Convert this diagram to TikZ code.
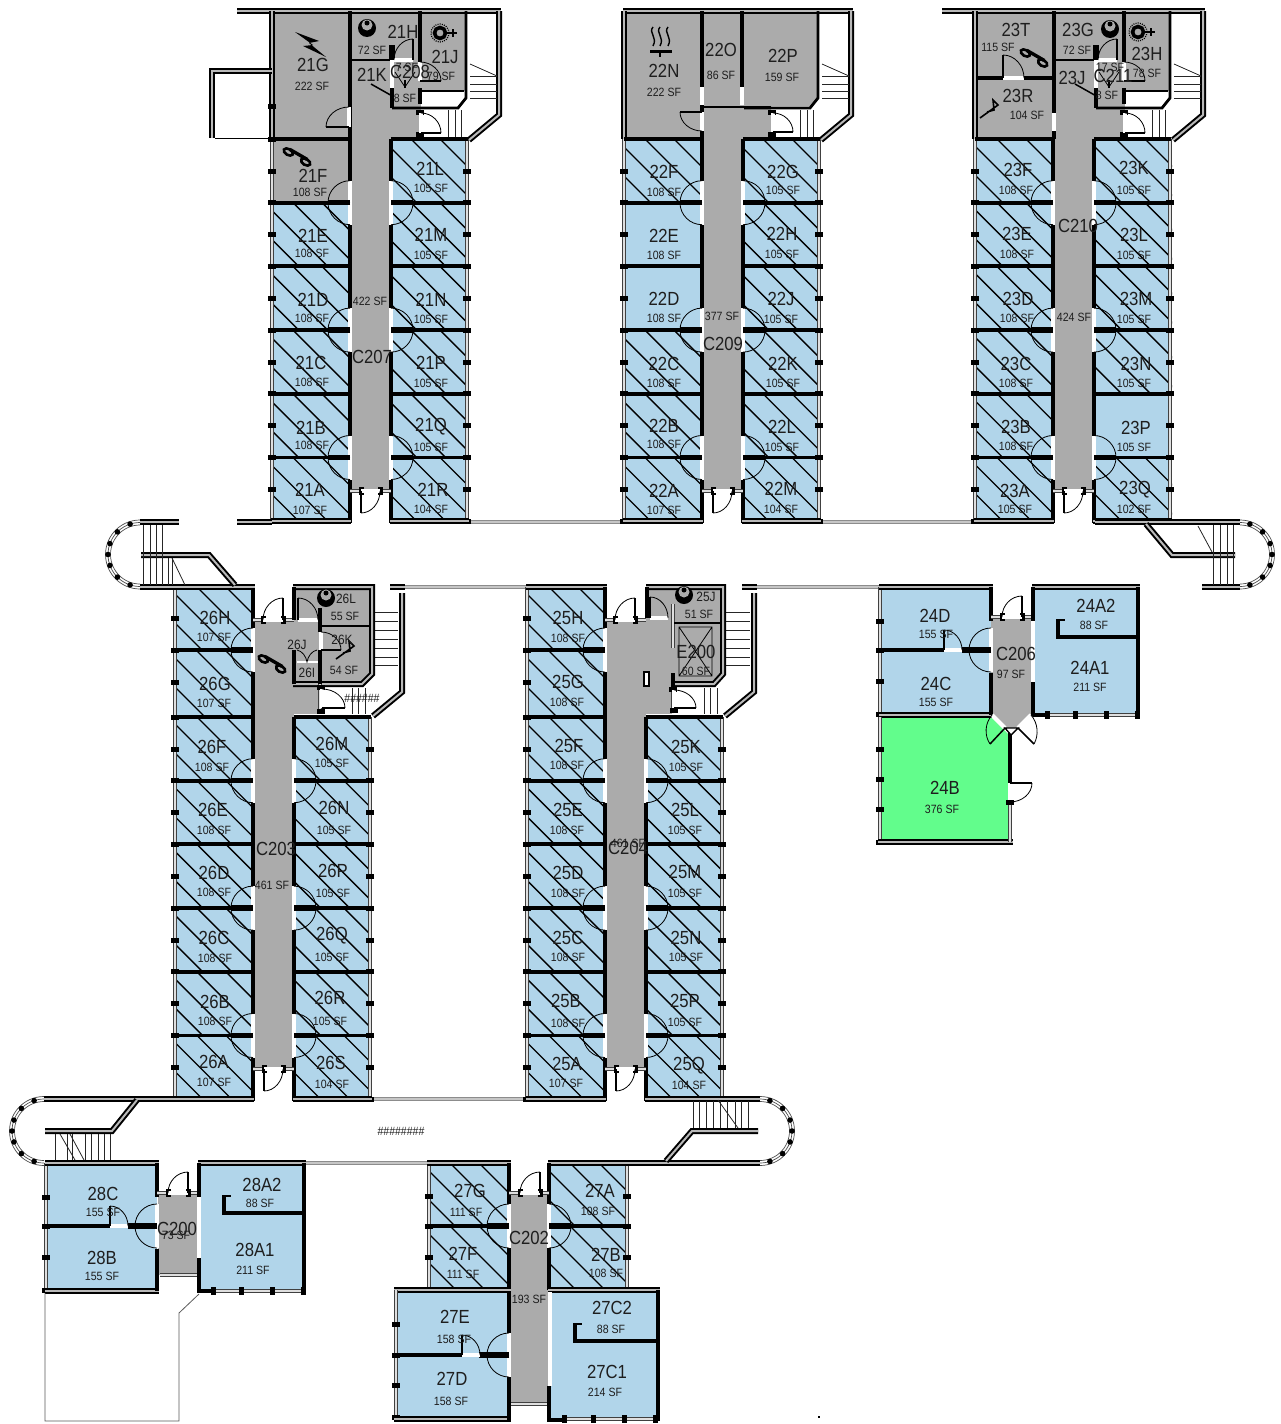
\documentclass[tikz,border=0pt]{standalone}
\usepackage{fontspec}
\setmainfont{Liberation Sans}
\newfontfamily\roomfont[FakeStretch=.88]{Liberation Sans}
\definecolor{roomblue}{HTML}{B1D5EA}
\definecolor{roomgrey}{HTML}{ABABAB}
\definecolor{roomgreen}{HTML}{62FD8C}
\definecolor{inkdark}{HTML}{1E1E1E}
\tikzset{
    wall/.style={black,line width=3.9pt},
    wallfat/.style={black,line width=5.4pt},
    wallout/.style={draw=black,line width=2pt,double=gray!55,double distance=2pt},
    glassline/.style={draw=black!75,line width=1pt,double=white!75!gray,double distance=2.2pt},
    walkline/.style={draw=gray!90,line width=1.2pt,double=gray!45,double distance=2.4pt},
    doorgap/.style={white,line width=4.2pt},
    leaf/.style={black,line width=1.5pt},
    doorarc/.style={black,line width=.8pt},
    hatchline/.style={black,line width=1.35pt},
    tread/.style={black!85,line width=.8pt},
    iconline/.style={black,line width=2.6pt},
    roomid/.style={inner sep=0pt,text=inkdark,font=\roomfont\fontsize{19}{19}\selectfont},
    roomsf/.style={inner sep=0pt,text=inkdark,font=\roomfont\fontsize{12}{12}\selectfont},
    roomsmall/.style={inner sep=0pt,text=inkdark,font=\roomfont\fontsize{13.5}{14}\selectfont}
}
% plain and hatched bays
\newcommand{\bay}[4]{\fill[#4] ({#1},{#2}) rectangle ++(77,{#3});}
\newcommand{\hbay}[3]{%
    \fill[roomblue] ({#1},{#2}) rectangle ++(77,{#3});
    \begin{scope}
        \clip ({#1},{#2}) rectangle ++(77,{#3});
        \foreach \k in {-66,-37,...,72} {\draw[hatchline] ({#1+\k},{#2}) -- ++(90,90);}
    \end{scope}}
% hinge, leaf end, open end
\newcommand{\door}[6]{%
    \draw[doorgap] ({#5},{#6}) -- ({#1},{#2});
    \draw[leaf] ({#1},{#2}) -- ({#3},{#4});
    \draw[doorarc] ({#3},{#4}) .. controls ({(#3)+.55*((#5)-(#1))},{(#4)+.55*((#6)-(#2))}) and ({(#5)+.55*((#3)-(#1))},{(#6)+.55*((#4)-(#2))}) .. ({#5},{#6});}
\newcommand{\ddoor}[3]{%
    \door{#1}{#2}{#1+#3*22}{#2}{#1}{#2-22}
    \door{#1}{#2}{#1+#3*22}{#2}{#1}{#2+22}
    \draw[wallfat] ({#1},{#2}) -- ({#1+#3*22},{#2});}
\newcommand{\mull}[2]{\fill[black] ({#1-4},{#2-2.5}) rectangle ++(8,5);}
\newcommand{\mullh}[2]{\fill[black] ({#1-2.5},{#2-4}) rectangle ++(5,8);}
% xl, xr, hinge x, other x, y, dy
\newcommand{\entry}[6]{%
    \draw[glassline] ({#1},{#5}) -- ({#2},{#5});
    \mullh{#3}{#5} \mullh{#4}{#5}
    \door{#3}{#5}{#3}{#5+#6}{#4}{#5}}
% rooms and corridor of one six-row wing, rows start at y
\newcommand{\baywing}[2]{%
    \draw[glassline] ({#1},{#2}) -- ({#1},{#2+382});
    \draw[glassline] ({#1+195},{#2}) -- ({#1+195},{#2+382});
    \foreach \r in {1,...,5} {
        \draw[wall] ({#1},{#2+63.7*\r}) -- ({#1+78},{#2+63.7*\r});
        \draw[wall] ({#1+119},{#2+63.7*\r}) -- ({#1+195},{#2+63.7*\r});
    }
    \foreach \r in {0,...,5} {
        \mull{#1}{#2+63.7*\r+32} \mull{#1+195}{#2+63.7*\r+32}
        \mull{#1}{#2+63.7*\r+63.7} \mull{#1+195}{#2+63.7*\r+63.7}
    }
    \draw[wall] ({#1+119},{#2}) -- ({#1+196},{#2});
    \draw[wall] ({#1+78},{#2}) -- ({#1+78},{#2+384});
    \draw[wall] ({#1+119},{#2}) -- ({#1+119},{#2+384});
    \draw[wallout] ({#1-1},{#2+382}) -- ({#1+79},{#2+382});
    \draw[wallout] ({#1+118},{#2+382}) -- ({#1+197},{#2+382});
    \foreach \r in {1,3,5} {
        \ddoor{#1+78}{#2+63.7*\r}{-1}
        \ddoor{#1+119}{#2+63.7*\r}{1}
    }
    \entry{#1+78}{#1+119}{#1+89}{#1+108}{#2+352}{22}}
% stair on the right of an upper wing, drawn for the first wing
\newcommand{\stairup}{%
    \draw[wallout] (271,11) -- (501,11);
    \draw[wallout] (499,11) -- (499,115) -- (469,140);
    \draw[wall,line width=2.8pt] (392,108) -- (458,108) -- (466,98) -- (466,11);
    \draw[tread] (470,64) -- (497,76);
    \foreach \ty in {76,84,91,98} {\draw[tread] (470,\ty) -- (497,\ty);}
    \foreach \tx in {448,455,461} {\draw[tread] (\tx,110) -- (\tx,137);}}
% stair beside a lower service block
\newcommand{\stairdown}{%
    \draw[wallout] (390,587) -- (405,587);
    \draw[wallout] (402,593) -- (402,692) -- (373,716);
    \foreach \ty in {612,621,630,639,648,657,665} {\draw[tread] (373,\ty) -- (398,\ty);}
    \foreach \tx in {352,358,365} {\draw[tread] (\tx,688) -- (\tx,714);}}
% top of a lower wing, two more rooms on the left
\newcommand{\lowertop}{%
    \fill[roomgrey] (253,620) rectangle (294,717);
    \fill[roomgrey] (294,620) rectangle (320,714);
    \draw[glassline] (175,587) -- (175,717);
    \draw[wallout] (174,587) -- (255,587);
    \draw[wall] (253,587) -- (253,717);
    \draw[wall] (175,650) -- (253,650);
    \draw[wall] (175,717) -- (253,717);
    \foreach \my in {618,650,682,717} {\mull{175}{\my}}
    \ddoor{253}{650}{-1}
    \entry{253}{294}{283}{263}{620}{-22}
    \stairdown}
% two rooms and a bent closet wall
\newcommand{\suiterooms}{%
    \fill[roomblue] (46,1164) rectangle (157,1290);
    \fill[roomblue] (199,1164) rectangle (304,1290);
    \draw[glassline] (46,1163) -- (46,1291);
    \foreach \my in {1197,1226,1257,1290} {\mull{46}{\my}}
    \draw[wallout] (45,1163) -- (159,1163);
    \draw[wallout] (45,1291) -- (159,1291);
    \draw[wall] (157,1163) -- (157,1197);
    \draw[wall] (157,1249) -- (157,1291);
    \draw[wall] (46,1226) -- (110,1226);
    \draw[wallfat] (128,1226) -- (157,1226);
    \door{110}{1226}{110}{1206}{128}{1226}
    \ddoor{157}{1226}{-1}
    \entry{157}{199}{188}{168}{1193}{-21}
    \draw[wallout] (198,1163) -- (306,1163);
    \draw[wall] (199,1163) -- (199,1197);
    \draw[doorgap] (199,1197) -- (199,1258);
    \draw[wall] (199,1258) -- (199,1291) -- (213,1291);
    \draw[glassline] (213,1291) -- (304,1291);
    \foreach \mx in {213,241,272,303} {\mullh{\mx}{1291}}
    \draw[wall] (304,1163) -- (304,1292);
    \draw[wall] (224,1195) -- (224,1213) -- (304,1213);
    \draw[wall,line width=2.4pt] (223,1196) -- (231,1196);}
% semicircular rail with posts
\newcommand{\railing}[3]{%
    \foreach \rr in {29.5,32,34.5} {
        \draw[black!70,line width=.7pt] plot[domain=-90:90,samples=31] ({#1+#3*\rr*cos(\x)},{#2+\rr*sin(\x)});
    }
    \foreach \ra in {-72,-45,-20,0,20,45,72} {
        \fill[black] ({#1+#3*32*cos(\ra)},{#2+32*sin(\ra)}) circle (2.8);
    }}
\newcommand{\phoneicon}[2]{%
    \begin{scope}[shift={(#1,#2)},rotate=-30]
        \draw[iconline] (-10,0) circle[x radius=5,y radius=3];
        \draw[iconline] (10,0) circle[x radius=5,y radius=3];
        \draw[iconline,line width=3.4pt] (-10,-3) -- (10,-3);
    \end{scope}}
\newcommand{\moonicon}[2]{%
    \fill[black] (#1,#2) circle (9);
    \fill[roomgrey] (#1,{#2-3}) circle (5.5);
    \fill[black] (#1,{#2-5}) circle (2.5);}
\newcommand{\sunicon}[2]{%
    \draw[black,line width=3.6pt] (#1,#2) circle (5.5);
    \draw[black,line width=1.2pt,dash pattern=on 1pt off 1.2pt] (#1,#2) circle (9);
    \draw[black,line width=2.6pt] ({#1+7},{#2}) -- ({#1+17},{#2});
    \draw[black,line width=2.2pt] ({#1+13},{#2-4}) -- ({#1+13},{#2+4});}
\newcommand{\rightstrike}[2]{%
    \draw[black,line width=1.6pt] (#1,#2) -- ({#1+18},{#2-13}) -- ({#1+13},{#2-18}) -- ({#1+14},{#2-8}) -- ({#1+7},{#2-6});}
\begin{document}
\begin{tikzpicture}[x=1pt,y=-1pt]
    \useasboundingbox (0,0) rectangle (1281,1424);
    % walkways first
    \draw[walkline] (468,522) -- (624,522);
    \draw[walkline] (820,522) -- (976,522);
    \draw[walkline] (405,587) -- (527,587);
    \draw[walkline] (757,587) -- (880,587);
    \draw[walkline] (372,1099) -- (527,1099);
    \draw[walkline] (306,1163) -- (428,1163);
    % grey service rooms and corridors
    \fill[roomgrey] (272,14) rectangle (421,139);
    \fill[roomgrey] (421,14) rectangle (466,91);
    \fill[roomgrey] (975,14) rectangle (1125,139);
    \fill[roomgrey] (1125,14) rectangle (1170,91);
    \fill[roomgrey] (624,14) -- (818,14) -- (818,98) -- (810,106) -- (771,106) -- (771,139) -- (624,139) -- cycle;
    \fill[roomgrey] (349,139) rectangle (390,491);
    \fill[roomgrey] (702,139) rectangle (742,491);
    \fill[roomgrey] (1054,139) rectangle (1095,491);
    \fill[roomgrey] (253,717) rectangle (294,1069);
    \fill[roomgrey] (605,717) rectangle (646,1069);
    \fill[roomgrey] (295,590) -- (370,590) -- (370,672) -- (361,683) -- (321,683) -- (321,713) -- (295,713) -- cycle;
    \fill[roomgrey] (647,590) -- (722,590) -- (722,672) -- (714,682) -- (674,682) -- (674,713) -- (647,713) -- cycle;
    \fill[roomgrey] (511,1195) rectangle (549,1405);
    \fill[roomgrey] (158,1195) rectangle (199,1275);
    \fill[roomgrey] (991,619) -- (1032,619) -- (1032,714) -- (1018,728) -- (1005,728) -- (991,714) -- cycle;
    \fill[roomgreen] (880,717) -- (991,717) -- (1005,731) -- (1009,735) -- (1009,842) -- (880,842) -- cycle;
    % hatched and plain bays by wing
    \bay{272}{139}{63.7}{roomgrey}
    \foreach \bx/\by/\rows in {
        272/139/{1,2,3,4,5}, 390/139/{0,1,2,3,4,5},
        624/139/{0,3,4,5}, 742/139/{0,1,2,3,4,5},
        976/139/{0,1,2,3,4,5}, 1095/139/{0,1,2,3,5},
        176/717/{0,1,2,3,4,5}, 294/717/{0,1,2,3,4,5},
        528/717/{0,1,2,3,4,5}, 646/717/{0,1,2,3,4,5}} {
        \foreach \r in \rows {\hbay{\bx}{\by+63.7*\r}{63.7}}
    }
    \bay{624}{202.7}{127.4}{roomblue}
    \bay{1095}{393.7}{63.7}{roomblue}
    \hbay{176}{587}{64} \hbay{176}{651}{66}
    \hbay{528}{587}{64} \hbay{528}{651}{66}
    \hbay{430}{1164}{63} \hbay{430}{1227}{63}
    \hbay{550}{1164}{63} \hbay{550}{1227}{63}
    \fill[roomblue] (397,1292) rectangle (509,1418);
    \fill[roomblue] (550,1292) rectangle (657,1418);
    % wings
    \baywing{272}{139}
    \baywing{624}{139}
    \baywing{975}{139}
    \baywing{175}{717}
    \baywing{527}{717}
    \stairup
    \begin{scope}[xshift=352pt] \stairup \end{scope}
    \begin{scope}[xshift=704pt] \stairup \end{scope}
    \draw[wallout] (237,11) -- (272,11);
    \draw[wallout] (942,11) -- (976,11);
    \draw[wallout] (237,522) -- (272,522);
    \lowertop
    \begin{scope}[xshift=352pt] \lowertop \end{scope}
    % service rooms of wings 21 and 23
    \foreach \sx in {0,704} {
        \begin{scope}[xshift=\sx pt]
            \draw[wall] (350,11) -- (350,139);
            \draw[wall] (420,11) -- (420,62);
            \draw[wall,line width=2.8pt] (350,60) -- (392,60);
            \draw[wallfat] (392,45) -- (392,60);
            \draw[wall] (392,88) -- (392,108);
            \draw[wall] (420,88) -- (420,104);
            \draw[wall,line width=2.8pt] (421,91) -- (464,91);
            \door{413}{60}{413}{39}{394}{60}
            \door{420}{81}{441}{81}{420}{62}
            \draw[doorgap] (392,60) -- (392,88);
            \draw[doorarc] (395,72) -- (405,87) -- (415,72);
            \draw[leaf] (405,80) -- (405,88);
            \draw[black,line width=1.5pt] (371,84) -- (394,97);
            \fill[white] (421,113) rectangle (441,133);
            \mull{420}{112} \mull{420}{134}
            \door{421}{133}{441}{133}{421}{113}
        \end{scope}
    }
    \moonicon{367}{28}
    \sunicon{440}{33}
    \moonicon{1110}{29}
    \sunicon{1138}{32}
    % wing 21 left part
    \draw[wallout] (272,11) -- (272,139);
    \draw[wall] (272,139) -- (350,139);
    \draw[wallout] (272,71) -- (212,71) -- (212,138);
    \draw[black,line width=.7pt] (215,138) -- (272,138);
    \foreach \my in {106,139} {\mull{272}{\my}}
    \door{349}{127}{326}{127}{349}{107}
    \fill[black] (295,32) -- (319,41) -- (309,43) -- (326,57) -- (303,46) -- (313,45) -- cycle;
    \phoneicon{297}{157}
    % wing 23 left part
    \draw[wallout] (975,11) -- (975,139);
    \draw[wall] (975,139) -- (1054,139);
    \draw[wall] (976,78) -- (1004,78);
    \draw[wall] (1024,78) -- (1054,78);
    \door{1003}{78}{1003}{55}{1024}{78}
    \draw[doorgap] (1054,113) -- (1054,131);
    \phoneicon{1034}{58}
    \rightstrike{980}{118}
    % wing 22 head
    \draw[wallout] (624,11) -- (624,139);
    \draw[wall] (624,139) -- (702,139);
    \draw[wall] (702,11) -- (702,139);
    \draw[wall] (742,11) -- (742,87);
    \draw[doorgap] (702,87) -- (702,105);
    \draw[doorgap] (742,87) -- (742,105);
    \draw[wall,line width=2.8pt] (702,107) -- (771,107);
    \door{702}{112}{680}{112}{702}{131}
    \fill[white] (773,113) rectangle (793,132);
    \mull{772}{112} \mull{772}{134}
    \door{773}{132}{793}{132}{773}{113}
    \draw[iconline,line width=1.4pt] (653,27) .. controls (648,33) and (658,37) .. (653,46);
    \draw[iconline,line width=1.4pt] (660,27) .. controls (655,33) and (665,37) .. (660,46);
    \draw[iconline,line width=1.4pt] (668,27) .. controls (663,33) and (673,37) .. (668,46);
    \draw[iconline,line width=3pt] (650,51) -- (672,51);
    \draw[iconline,line width=2pt] (660,51) -- (660,57);
    % wing 26 service block
    \draw[wallout] (293,587) -- (372,587) -- (372,674) -- (362,684) -- (293,684);
    \draw[wall] (294,587) -- (294,620);
    \draw[wall] (294,650) -- (294,684);
    \draw[wall] (320,608) -- (320,632);
    \draw[wall,line width=2.8pt] (320,626) -- (370,626);
    \draw[wall] (320,650) -- (320,684);
    \door{298}{620}{298}{598}{318}{620}
    \door{321}{650}{341}{650}{321}{632}
    \draw[doorgap,line width=2pt] (297,662) -- (318,662);
    \draw[doorarc] (297,650) .. controls (302,651) and (306,656) .. (307,662) .. controls (308,656) and (312,651) .. (317,650);
    \draw[glassline] (320,684) -- (320,713);
    \fill[white] (322,689) rectangle (345,708);
    \mull{321}{687} \mull{321}{711}
    \door{322}{708}{345}{708}{322}{689}
    \moonicon{326}{598}
    \phoneicon{272}{664}
    \rightstrike{336}{659}
    % wing 25 service block
    \fill[roomgrey] (646,618) rectangle (672,714);
    \draw[wallout] (646,587) -- (723,587) -- (723,674) -- (714,684) -- (673,684);
    \draw[wall] (647,587) -- (647,618);
    \door{650}{618}{650}{597}{668}{618}
    \draw[glassline] (673,604) -- (673,648);
    \draw[wall] (673,673) -- (673,688);
    \draw[wall,line width=2.8pt] (674,623) -- (720,623);
    \draw[black,line width=.8pt] (679,627) rectangle (712,676) (679,627) -- (712,676) (712,627) -- (679,676);
    \fill[white] (675,690) rectangle (697,708);
    \draw[glassline] (673,690) -- (673,708);
    \mull{673}{689} \mull{674}{710}
    \door{674}{708}{696}{708}{674}{690}
    \draw[black,line width=1.6pt,fill=white] (644,672) rectangle (649,686);
    \moonicon{684}{595}
    % suites 28 and 24
    \suiterooms
    \draw[glassline] (160,1275) -- (197,1275);
    \begin{scope}[xshift=834pt,yshift=576pt]
        \suiterooms
    \end{scope}
    % room 24B
    \draw[glassline] (880,717) -- (880,842);
    \foreach \my in {749,779,809,842} {\mull{880}{\my}}
    \draw[wallout] (878,842) -- (1013,842);
    \draw[wall] (1010,733) -- (1010,783);
    \door{1010}{783}{1032}{783}{1010}{802}
    \draw[glassline] (1010,802) -- (1010,842);
    \mull{1010}{802}
    \draw[doorgap] (992,715) -- (1005,728);
    \draw[doorgap] (1031,715) -- (1018,728);
    \draw[leaf] (1005,728) -- (990,744);
    \draw[leaf] (1018,728) -- (1034,744);
    \draw[doorarc] (990,744) .. controls (984,735) and (985,723) .. (992,715);
    \draw[doorarc] (1034,744) .. controls (1039,735) and (1038,723) .. (1031,715);
    \draw[black,line width=1.4pt,fill=white] (1005,728) -- (1018,728) -- (1011,735) -- cycle;
    % building 27
    \draw[glassline] (429,1163) -- (429,1290);
    \draw[glassline] (627,1163) -- (627,1290);
    \foreach \mx in {429,627} {\foreach \my in {1196,1226,1257,1290} {\mull{\mx}{\my}}}
    \draw[wallout] (427,1163) -- (511,1163);
    \draw[wallout] (548,1163) -- (760,1163);
    \draw[wall] (509,1163) -- (509,1333);
    \draw[wall] (549,1163) -- (549,1290);
    \draw[wall] (430,1226) -- (509,1226);
    \draw[wall] (549,1226) -- (627,1226);
    \ddoor{509}{1226}{-1}
    \ddoor{549}{1226}{1}
    \entry{509}{549}{540}{520}{1193}{-21}
    \draw[wallout] (394,1290) -- (511,1290);
    \draw[wallout] (548,1290) -- (660,1290);
    \draw[glassline] (396,1290) -- (396,1419);
    \foreach \my in {1324,1355,1385,1417} {\mull{396}{\my}}
    \draw[wallout] (394,1419) -- (511,1419);
    \draw[wall] (397,1355) -- (462,1355);
    \draw[wallfat] (479,1355) -- (509,1355);
    \door{462}{1355}{462}{1335}{480}{1355}
    \draw[wall] (509,1333) -- (509,1420);
    \ddoor{509}{1355}{-1}
    \draw[glassline] (511,1404) -- (547,1404);
    \draw[doorgap] (550,1292) -- (550,1386);
    \draw[wall] (549,1386) -- (549,1420) -- (563,1420);
    \draw[glassline] (563,1419) -- (657,1419);
    \foreach \mx in {564,593,624,655} {\mullh{\mx}{1419}}
    \draw[wall] (658,1290) -- (658,1421);
    \draw[wall] (575,1323) -- (575,1341) -- (657,1341);
    \draw[wall,line width=2.4pt] (574,1324) -- (582,1324);
    % stair lobbies and rails
    \draw[wallout] (140,522) -- (179,522);
    \draw[wallout] (140,587) -- (255,587);
    \draw[wallout] (141,555) -- (209,555) -- (235,585);
    \foreach \tx in {143,150,156,162} {\draw[tread] (\tx,525) -- (\tx,585);}
    \foreach \tx in {168,172} {\draw[tread] (\tx,558) -- (\tx,585);}
    \draw[tread] (172,558) -- (185,585);
    \railing{140}{554.5}{-1}
    \draw[wallout] (1095,522) -- (1240,522);
    \draw[wallout] (1202,587) -- (1240,587);
    \draw[wallout] (1235,555) -- (1172,555) -- (1146,524);
    \foreach \tx in {1213,1220,1227,1233} {\draw[tread] (\tx,525) -- (\tx,585);}
    \draw[tread] (1198,526) -- (1212,552);
    \railing{1240}{554.5}{1}
    \draw[wallout] (44,1099) -- (254,1099);
    \draw[wallout] (45,1131) -- (112,1131) -- (137,1100);
    \foreach \tx in {55,67,72,85,91,98,104,110} {\draw[tread] (\tx,1134) -- (\tx,1160);}
    \draw[tread] (60,1134) -- (75,1160);
    \draw[tread] (70,1134) -- (84,1160);
    \railing{44}{1131}{-1}
    \draw[wallout] (645,1099) -- (760,1099);
    \draw[wallout] (758,1131) -- (692,1131) -- (666,1161);
    \foreach \tx in {693,699,706,713,720,727,735,741,748} {\draw[tread] (\tx,1101) -- (\tx,1128);}
    \draw[tread] (718,1100) -- (738,1128);
    \railing{760}{1131}{1}
    % yard outline
    \draw[gray!70!black,line width=.8pt] (45,1293) -- (45,1421) -- (179,1421) -- (179,1313) -- (199,1294);
    \fill[black] (818,1416) rectangle ++(2,1.5);
    % labels
    \foreach \rid/\xa/\ya/\xb/\yb/\sfv in {
        21G/313/65/312/86/222, 21H/403/32/372/50/72, 21J/445/57/441/76/79, 21K/372/75/405/98/8,
        21F/313/176/310/192/108, 21E/313/236/312/253/108, 21D/313/300/312/318/108,
        21C/311/363/312/382/108, 21B/311/428/312/445/108, 21A/310/490/310/510/107,
        21L/430/169/431/188/105, 21M/431/235/431/255/105, 21N/431/300/431/319/105,
        21P/431/363/431/383/105, 21Q/431/427/431/447/105, 21R/433/490/431/509/104,
        C207/372/357/370/301/422, C208/410/72/407/67/7,
        22N/664/71/664/92/222, 22O/721/50/721/75/86, 22P/783/56/782/77/159,
        22F/664/172/664/192/108, 22E/664/236/664/255/108, 22D/664/299/664/318/108,
        22C/664/364/664/383/108, 22B/664/426/664/444/108, 22A/664/491/664/510/107,
        22G/783/172/783/190/105, 22H/782/234/782/254/105, 22J/781/299/781/319/105,
        22K/783/364/783/383/105, 22L/782/427/782/447/105, 22M/781/489/781/509/104,
        C209/723/344/722/316/377,
        23T/1016/30/998/47/115, 23G/1078/30/1077/50/72, 23H/1147/54/1147/73/78, 23J/1072/78/1107/95/8,
        C211/1113/76/1110/67/17, 23R/1018/96/1027/115/104,
        23F/1018/170/1016/190/108, 23E/1017/234/1017/254/108, 23D/1018/299/1017/318/108,
        23C/1016/364/1016/383/108, 23B/1016/427/1016/446/108, 23A/1015/491/1015/509/105,
        23K/1134/168/1134/190/105, 23L/1134/235/1134/255/105, 23M/1136/299/1134/319/105,
        23N/1136/364/1134/383/105, 23P/1136/428/1134/447/105, 23Q/1135/490/1134/509/102,
        C210/1078/226/1074/317/424,
        26H/215/618/214/637/107, 26G/215/684/214/703/107, 26F/212/747/212/767/108,
        26E/213/810/214/830/108, 26D/214/873/214/892/108, 26C/214/938/215/958/108,
        26B/215/1002/215/1021/108, 26A/214/1062/214/1082/107,
        26M/332/744/332/763/105, 26N/334/808/334/830/105, 26P/333/871/333/893/105,
        26Q/332/936/332/957/105, 26R/330/998/330/1021/105, 26S/331/1063/332/1084/104,
        C203/276/849/272/885/461,
        25H/568/618/568/638/108, 25G/568/682/567/702/108, 25F/569/746/567/765/108,
        25E/568/810/567/830/108, 25D/568/873/568/893/108, 25C/568/938/568/957/108,
        25B/566/1001/568/1023/108, 25A/567/1064/566/1083/107,
        25K/686/747/686/767/105, 25L/685/810/685/830/105, 25M/685/872/685/893/105,
        25N/686/938/686/957/105, 25P/685/1001/685/1022/105, 25Q/689/1066/689/1085/104,
        C204/628/848/628/843/461, E200/696/652/696/671/60,
        24D/935/616/936/634/155, 24C/936/684/936/702/155, 24A2/1096/606/1094/625/88,
        24A1/1090/668/1090/687/211, 24B/945/788/942/809/376, C206/1016/654/1011/674/97,
        28C/103/1194/103/1212/155, 28B/102/1258/102/1276/155, 28A2/262/1185/260/1203/88,
        28A1/255/1250/253/1270/211, C200/177/1229/176/1235/73,
        27G/470/1191/466/1212/111, 27F/463/1254/463/1274/111, 27E/455/1317/454/1339/158,
        27D/452/1379/451/1401/158, 27A/600/1191/598/1211/108, 27B/606/1255/606/1273/108,
        27C2/612/1308/611/1329/88, 27C1/607/1372/605/1392/214, C202/529/1238/529/1299/193} {
        \node[roomid] (r\rid) at (\xa,\ya) {\rid};
        \node[roomsf] (a\rid) at (\xb,\yb) {\sfv{} SF};
    }
    \node[roomsmall] (r26L) at (346,599) {26L};
    \node[roomsf] (a26L) at (345,616) {55 SF};
    \node[roomsmall] (r26K) at (342,640) {26K};
    \node[roomsf] (a26K) at (344,670) {54 SF};
    \node[roomsmall] (r26J) at (297,645) {26J};
    \node[roomsmall] (r26I) at (307,673) {26I};
    \node[roomsmall] (r25J) at (706,597) {25J};
    \node[roomsf] (a25J) at (699,614) {51 SF};
    \node[roomsf] (tagA) at (362,698) {\#\#\#\#\#\#};
    \node[roomsf] (tagB) at (401,1131) {\#\#\#\#\#\#\#\#};
\end{tikzpicture}
\end{document}
